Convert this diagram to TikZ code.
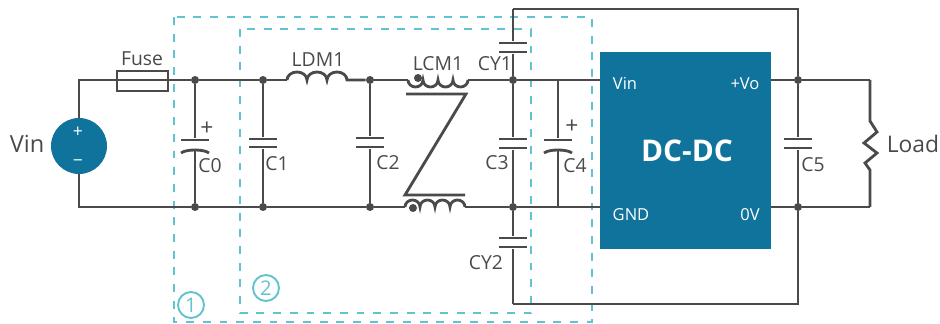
\documentclass[tikz,border=0pt]{standalone}
\usepackage{fontspec}
\setmainfont{Open Sans}
\definecolor{wire}{HTML}{4A4A4A}
\definecolor{block}{HTML}{10739B}
\definecolor{zone}{HTML}{62C3D0}
\tikzset{
  wireline/.style={draw=wire, line width=1.6pt},
  junction/.style={circle, fill=wire, minimum size=0.16cm, inner sep=0pt},
  plate/.style={fill=wire, minimum width=0.56cm, minimum height=1.6pt, inner sep=0pt},
  label/.style={text=wire, inner sep=0pt, font=\fontsize{11}{13}\selectfont},
  pin/.style={text=white, inner sep=0pt, font=\fontsize{9.4}{11}\selectfont},
  zonebox/.style={draw=zone, line width=1.6pt, dash pattern=on 4.5pt off 5pt},
  zonemark/.style={circle, draw=zone, text=zone, line width=1.1pt, minimum size=0.52cm, inner sep=0pt, font=\fontsize{11.5}{13}\selectfont}
}
\begin{document}
\begin{tikzpicture}[x=0.02cm, y=-0.02cm]
\useasboundingbox (0,0) rectangle (940,324);

%% filter zones
\draw[zonebox] (174,17) rectangle (592,322);
\draw[zonebox] (240,29) rectangle (531,313);
\node[zonemark] (zonea) at (191,305) {1};
\node[zonemark] (zoneb) at (266,288) {2};

%% rail points
\coordinate (tl) at (79,80);
\coordinate (bl) at (79,207);
\node[junction] (j0t) at (195,80) {};
\node[junction] (j0b) at (195,207) {};
\node[junction] (j1t) at (263,80) {};
\node[junction] (j1b) at (263,207) {};
\node[junction] (j2t) at (370,80) {};
\node[junction] (j2b) at (370,207) {};
\node[junction] (j3t) at (513,80) {};
\node[junction] (j3b) at (513,207) {};
\coordinate (j4t) at (558,80);
\coordinate (j4b) at (558,207);
\node[junction] (j5t) at (798,80) {};
\node[junction] (j5b) at (798,207) {};
\coordinate (tr) at (870,80);
\coordinate (br) at (870,207);
\coordinate (shieldtl) at (513,9);
\coordinate (shieldtr) at (798,9);
\coordinate (shieldbl) at (513,304);
\coordinate (shieldbr) at (798,304);

%% block and source
\node[fill=block, minimum width=3.42cm, minimum height=3.94cm, inner sep=0pt] (dcdc) at (685.5,150.5) {};
\node[text=white, inner sep=0pt, font=\fontsize{17}{20}\selectfont\bfseries] (dcdclabel) at (687,151) {DC-DC};
\node[pin] (pinvin) at (625,83) {Vin};
\node[pin] (pinvo) at (745,84) {+Vo};
\node[pin] (pingnd) at (631,215) {GND};
\node[pin] (pinov) at (750,215) {0V};
\coordinate (dcvin) at (600,80);
\coordinate (dcgnd) at (600,207);
\coordinate (dcvo) at (771,80);
\coordinate (dcov) at (771,207);

\node[circle, fill=block, minimum size=1.12cm, inner sep=0pt] (vsrc) at (79,146) {};
\node[text=white, inner sep=0pt, font=\fontsize{10}{12}\selectfont] (vplus) at (78,132) {+};
\node[text=white, inner sep=0pt, font=\fontsize{10}{12}\selectfont] (vminus) at (78,163) {\textminus};
\node[label, font=\fontsize{13.4}{16}\selectfont] (vinlabel) at (27,144) {Vin};

%% fuse
\node[draw=wire, line width=1.6pt, minimum width=1.02cm, minimum height=0.4cm, inner sep=0pt] (fuse) at (142.5,81) {};
\node[label] (fuselabel) at (142,59) {Fuse};

%% wires
\draw[wireline] (vsrc) -- (tl) -- (fuse.west |- tl);
\draw[wireline] (fuse.west |- tl) -- (fuse.east |- tl) -- (j0t) -- (j1t);
\draw[wireline] (vsrc) -- (bl) -- (j0b) -- (j1b) -- (j2b);
\draw[wireline] (j2t) -- (408,80);
\draw[wireline] (j2b) -- (405,207);
\draw[wireline] (468,80) -- (j3t) -- (j4t) -- (dcvin);
\draw[wireline] (465,207) -- (j3b) -- (j4b) -- (dcgnd);
\draw[wireline] (dcvo) -- (j5t) -- (tr);
\draw[wireline] (dcov) -- (j5b) -- (br);
\draw[wireline] (j5t) -- (shieldtr) -- (shieldtl);
\draw[wireline] (j5b) -- (shieldbr) -- (shieldbl);

%% inductors
\draw[wireline] (j1t) -- (287,80);
\draw[wireline] (287,80) arc[start angle=180, end angle=360, x radius=10, y radius=8]
  arc[start angle=180, end angle=360, x radius=10, y radius=8]
  arc[start angle=180, end angle=360, x radius=10, y radius=8] -- (j2t);
\node[label] (ldmlabel) at (318,60) {LDM1};
\draw[wireline] (408,80) arc[start angle=180, end angle=0, x radius=7.5, y radius=7]
  arc[start angle=180, end angle=0, x radius=7.5, y radius=7]
  arc[start angle=180, end angle=0, x radius=7.5, y radius=7]
  arc[start angle=180, end angle=0, x radius=7.5, y radius=7];
\draw[wireline] (405,207) arc[start angle=180, end angle=360, x radius=7.5, y radius=7]
  arc[start angle=180, end angle=360, x radius=7.5, y radius=7]
  arc[start angle=180, end angle=360, x radius=7.5, y radius=7]
  arc[start angle=180, end angle=360, x radius=7.5, y radius=7];
\node[junction] (dota) at (418,78) {};
\node[junction] (dotb) at (413,208) {};
\coordinate (za) at (406,94);
\coordinate (zb) at (466,94);
\coordinate (zc) at (405,195);
\coordinate (zd) at (465,195);
\draw[wireline] (za) -- (zb) -- (zc) -- (zd);
\node[label] (lcmlabel) at (438,64) {LCM1};

%% polarised caps
\node[plate] (c0a) at (195,140) {};
\coordinate (c0b) at (195,150);
\draw[wireline] (j0t) -- (c0a);
\draw[wireline] (c0b) -- (j0b);
\draw[wireline] (181,153) .. controls (186,149) and (204,149) .. (209,153);
\node[label, font=\fontsize{13}{15}\selectfont] (c0plus) at (207,129) {+};
\node[label] (c0label) at (210,166) {C0};

\node[plate] (c4a) at (558,140) {};
\coordinate (c4b) at (558,150);
\draw[wireline] (j4t) -- (c4a);
\draw[wireline] (c4b) -- (j4b);
\draw[wireline] (544,153) .. controls (549,149) and (567,149) .. (572,153);
\node[label, font=\fontsize{13}{15}\selectfont] (c4plus) at (572,127) {+};
\node[label] (c4label) at (575,166) {C4};

%% plain caps
\node[plate] (c1a) at (263,139) {};
\node[plate] (c1b) at (263,147) {};
\draw[wireline] (j1t) -- (c1a);
\draw[wireline] (c1b) -- (j1b);
\node[label] (c1label) at (277,164) {C1};

\node[plate] (c2a) at (370,138) {};
\node[plate] (c2b) at (370,147) {};
\draw[wireline] (j2t) -- (c2a);
\draw[wireline] (c2b) -- (j2b);
\node[label] (c2label) at (388,163) {C2};

\node[plate] (c3a) at (513,139) {};
\node[plate] (c3b) at (513,148) {};
\draw[wireline] (j3t) -- (c3a);
\draw[wireline] (c3b) -- (j3b);
\node[label] (c3label) at (497,163) {C3};

\node[plate] (c5a) at (798,139) {};
\node[plate] (c5b) at (798,148) {};
\draw[wireline] (j5t) -- (c5a);
\draw[wireline] (c5b) -- (j5b);
\node[label] (c5label) at (813,165) {C5};

\node[plate] (cy1a) at (513,43) {};
\node[plate] (cy1b) at (513,52) {};
\draw[wireline] (shieldtl) -- (cy1a);
\draw[wireline] (cy1b) -- (j3t);
\node[label] (cy1label) at (495,64) {CY1};

\node[plate] (cy2a) at (513,238) {};
\node[plate] (cy2b) at (513,247) {};
\draw[wireline] (j3b) -- (cy2a);
\draw[wireline] (cy2b) -- (shieldbl);
\node[label] (cy2label) at (486,263) {CY2};

%% load
\coordinate (loada) at (870,121);
\coordinate (loadb) at (870,170);
\draw[wireline] (tr) -- (loada) -- (877,132) -- (864,143) -- (877,153) -- (865,163) -- (loadb) -- (br);
\node[label, font=\fontsize{13}{15}\selectfont] (loadlabel) at (913,144) {Load};

\end{tikzpicture}
\end{document}
